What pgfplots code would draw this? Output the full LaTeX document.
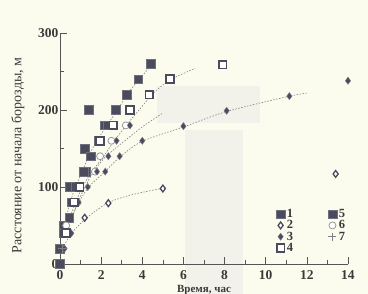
\documentclass[border=0pt]{standalone}
\usepackage{pgfplots}
\pgfplotsset{compat=1.18}
\usepackage{fontspec}
\setmainfont{Liberation Serif}
\definecolor{bg}{HTML}{FCFCEE}
\definecolor{blot}{HTML}{F3F2EA}
\definecolor{mk}{HTML}{4B4B5E}
\definecolor{ax}{HTML}{555555}
\definecolor{txt}{HTML}{3A3A3A}
\begin{document}
\begin{tikzpicture}
\fill[bg] (-60pt,-30pt) rectangle (308pt,264pt);
\fill[blot] (97pt,141pt) rectangle (200pt,178pt);
\fill[blot] (125pt,-30pt) rectangle (183pt,134pt);
\begin{axis}[
  at={(0,0)}, anchor=south west,
  scale only axis, width=288pt, height=231pt,
  xmin=0, xmax=14, ymin=0, ymax=300,
  axis lines=left, axis line style={ax, line width=0.8pt, -},
  xtick={0,2,...,14}, ytick={0,100,200,300},
  minor x tick num=1, minor y tick num=1,
  tick align=inside, major tick length=7pt, minor tick length=4pt,
  tick style={ax, line width=0.7pt},
  /pgf/number format/assume math mode=true,
  ticklabel style={font=\bfseries\fontsize{13.5}{13.5}\selectfont, text=txt},
  yticklabel style={xshift=2pt},
  xticklabel style={yshift=-5pt, inner ysep=1pt},
  xlabel={Время, час}, xlabel style={font=\bfseries\fontsize{11}{11}\selectfont, text=txt, at={(axis description cs:0.5,-0.113)}, anchor=center, inner sep=0.5pt},
  ylabel={Расстояние от начала борозды, м}, ylabel style={font=\fontsize{14}{14}\selectfont, text=txt, at={(axis description cs:-0.146,0.47)}, rotate=0, anchor=center},
  clip=false,
  legend columns=2,
  legend cell align=left,
  legend style={at={(0.74,0.255)}, anchor=north west, draw=none, fill=none,
    font=\bfseries\fontsize{12.5}{12.5}\selectfont, text=txt, row sep=-2.5pt,
    /tikz/every even column/.append style={column sep=33pt}},
]
% trend curves
\addplot[forget plot, gray, dash pattern=on 1.5pt off 1.5pt, line width=0.6pt, smooth] coordinates {(0.3,60)(0.6,89)(1.0,115)(1.38,139)(1.62,152)(2.03,170)(2.59,192)(3.08,212)(3.48,228)(4.37,256)};
\addplot[forget plot, gray, dash pattern=on 1.5pt off 1.5pt, line width=0.6pt, smooth] coordinates {(0.5,62)(1.0,95)(1.5,118)(2.1,139)(2.43,152)(2.84,167)(3.4,186)(3.97,204)(4.54,222)(5.35,239)(6.56,254)};
\addplot[forget plot, gray, dash pattern=on 1.5pt off 1.5pt, line width=0.6pt, smooth] coordinates {(0.5,55)(1.0,88)(1.5,114)(2.1,136)(2.59,148)(3.24,162)(4.05,179)(5.0,196)};
\addplot[forget plot, gray, dash pattern=on 1.5pt off 1.5pt, line width=0.6pt, smooth] coordinates {(0.4,50)(0.8,75)(1.4,100)(2.19,120)(2.92,139)(3.97,159)(6.0,178)(8.1,198)(11.0,217)(12.0,222)};
\addplot[forget plot, gray, dash pattern=on 1.5pt off 1.5pt, line width=0.6pt, smooth] coordinates {(0.2,24)(0.57,40)(1.22,58)(2.3,79)(3.5,90)(4.94,98)};
% 1
\addplot[only marks, mark=square*, mark size=4.3pt, mark options={fill=mk, draw=mk!80}] coordinates {(0,0)(0.15,50)(0.45,60)(0.45,100)(0.55,80)(1.25,120)(1.2,150)(1.5,140)(1.85,160)(2.15,180)(1.4,200)(3.25,220)(3.8,240)(4.4,260)};
\addlegendentry{1}
% 5
\addplot[only marks, mark=square*, mark size=4.3pt, mark options={fill=mk, draw=mk!80}] coordinates {(0,20)(0.15,40)(0.75,100)(1.15,120)(2.3,180)(2.7,200)};
\addlegendentry{5}
% 2
\addplot[only marks, mark=diamond*, mark size=3.4pt, mark options={fill=white, draw=mk, line width=1.3pt}] coordinates {(0.2,20)(0.5,40)(1.2,60)(2.35,79)(5,98)(13.4,117)};
\addlegendentry{2}
% 6
\addplot[only marks, mark=*, mark size=3.5pt, mark options={fill=white, draw=gray!80, line width=0.8pt}] coordinates {(0.3,50)(0.85,80)(1.7,120)(1.95,140)(2.5,160)(3.2,180)};
\addlegendentry{6}
% 3
\addplot[only marks, mark=diamond*, mark size=3.6pt, mark options={fill=mk, draw=mk!70}] coordinates {(0.2,20)(0.55,40)(0.9,80)(1.35,100)(1.8,120)(2.2,120)(2.35,140)(2.9,140)(2.75,160)(4,160)(3.4,180)(6,179)(8.1,199)(11.15,218)(14,238)};
\addlegendentry{3}
% 7
\addplot[only marks, mark=+, mark size=4pt, mark options={draw=gray, line width=0.8pt}] coordinates {(0.1,20)(0.3,40)};
\addlegendentry{7}
% 4
\addplot[only marks, mark=square*, mark size=3.9pt, mark options={fill=white, draw=mk, line width=1.8pt}] coordinates {(0.3,40)(0.7,80)(0.95,100)(1.95,160)(2.6,180)(3.4,200)(4.35,220)(5.35,240)(7.9,259)};
\addlegendentry{4}
\end{axis}
\pgfresetboundingbox
\path[use as bounding box] (-60pt,-30pt) rectangle (308pt,264pt);
\end{tikzpicture}
\end{document}
